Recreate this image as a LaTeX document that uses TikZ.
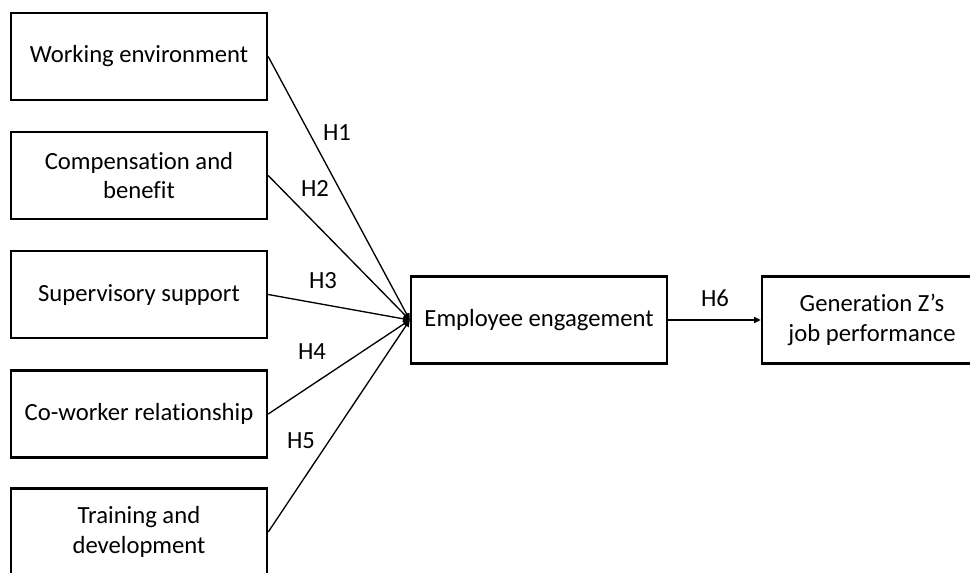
\documentclass[tikz,border=0pt]{standalone}
\usepackage{fontspec}
\setmainfont{Carlito}[Ligatures=NoCommon]
\usetikzlibrary{arrows.meta}
\begin{document}
\begin{tikzpicture}[x=0.75pt,y=-0.75pt,
  box/.style={draw=black,line width=1.8pt,fill=white,minimum height=65pt,align=center,inner sep=0pt,
    font=\fontsize{18.5}{22}\selectfont},
  leftbox/.style={box,minimum width=192pt},
  conn/.style={line width=1pt,-{Triangle[length=5pt,width=4.5pt]}},
  hlab/.style={font=\fontsize{18.5}{22}\selectfont,inner sep=0pt}]
\useasboundingbox (0,0) rectangle (970,572);
\clip (0,0) rectangle (970,572);
\node[leftbox] (b1) at (139,56.5) {Working environment};
\node[leftbox] (b2) at (139,175.5) {Compensation and\\benefit};
\node[leftbox] (b3) at (139,294.5) {Supervisory support};
\node[leftbox] (b4) at (139,414) {Co-worker relationship};
\node[leftbox] (b5) at (139,532) {Training and\\development};
\node[box,minimum width=192pt] (ee) at (539,320) {Employee engagement};
\node[box,minimum width=165pt] (jp) at (872,320) {Generation Z’s\\job performance};
\foreach \b in {b1,b2,b3,b4,b5}{\draw[conn] (\b.east) -- (ee.west);}
\draw[conn] (ee.east) -- (jp.west);
\node[hlab] (h1) at (337,133) {H1};
\node[hlab] (h2) at (315,188) {H2};
\node[hlab] (h3) at (323,281) {H3};
\node[hlab] (h4) at (312,352) {H4};
\node[hlab] (h5) at (301,441) {H5};
\node[hlab] (h6) at (715,298) {H6};
\end{tikzpicture}
\end{document}
